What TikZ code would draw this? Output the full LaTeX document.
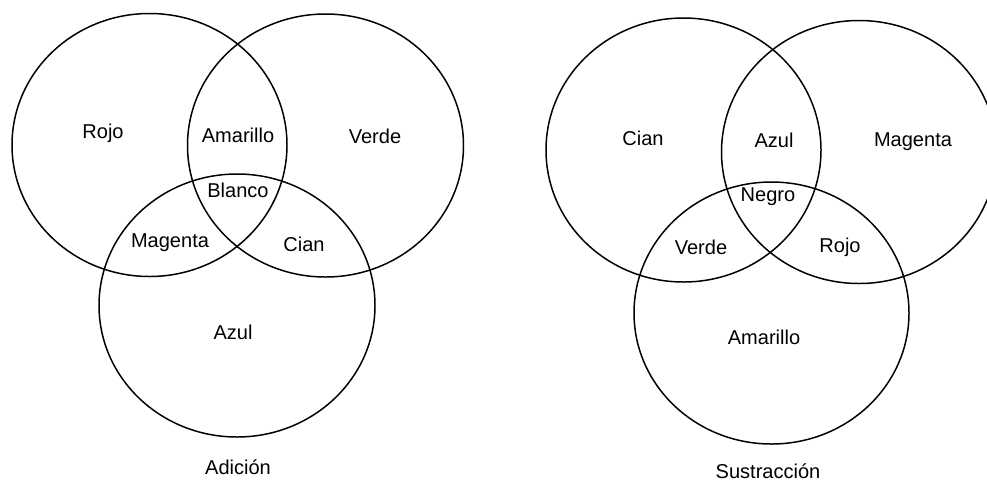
\documentclass[tikz,border=0pt]{standalone}
\usepackage{fontspec}
\setmainfont{Liberation Sans}

\tikzset{
  aro/.style={line width=0.85pt},
  color lbl/.style={font=\fontsize{11.4}{13}\selectfont, inner sep=0pt}
}

\begin{document}
\begin{tikzpicture}[x=0.02cm,y=-0.02cm]

\useasboundingbox
(0,0)
rectangle
(987,481);
\clip
(0,0)
rectangle
(987,481);

% Adición
\draw[aro]
(149.5,145)
ellipse [x radius=137.5, y radius=131.5];
\draw[aro]
(325.5,145.5)
ellipse [x radius=138, y radius=131.5];
\draw[aro]
(237,305.5)
ellipse [x radius=138, y radius=131.5];

\node[color lbl] (rojoA)
at (103,133)
{Rojo};
\node[color lbl] (amarilloA)
at (238,135)
{Amarillo};
\node[color lbl] (verdeA)
at (375,136)
{Verde};
\node[color lbl] (blancoA)
at (238,190)
{Blanco};
\node[color lbl] (magentaA)
at (170,243)
{Magenta};
\node[color lbl] (cianA)
at (304,244)
{Cian};
\node[color lbl] (azulA)
at (233,332)
{Azul};
\node[color lbl] (adicion)
at (238,467)
{Adición};

% Sustracción
\draw[aro]
(683.5,150)
ellipse [x radius=137.5, y radius=132];
\draw[aro]
(859,152)
ellipse [x radius=137.5, y radius=131.5];
\draw[aro]
(771.5,313)
ellipse [x radius=137.5, y radius=131];

\node[color lbl] (cianS)
at (643,138)
{Cian};
\node[color lbl] (azulS)
at (774,140)
{Azul};
\node[color lbl] (magentaS)
at (913,142)
{Magenta};
\node[color lbl] (negroS)
at (768,197)
{Negro};
\node[color lbl] (verdeS)
at (701,247)
{Verde};
\node[color lbl] (rojoS)
at (840,247)
{Rojo};
\node[color lbl] (amarilloS)
at (764,337)
{Amarillo};
\node[color lbl] (sustraccion)
at (768,471)
{Sustracción};

\end{tikzpicture}
\end{document}
